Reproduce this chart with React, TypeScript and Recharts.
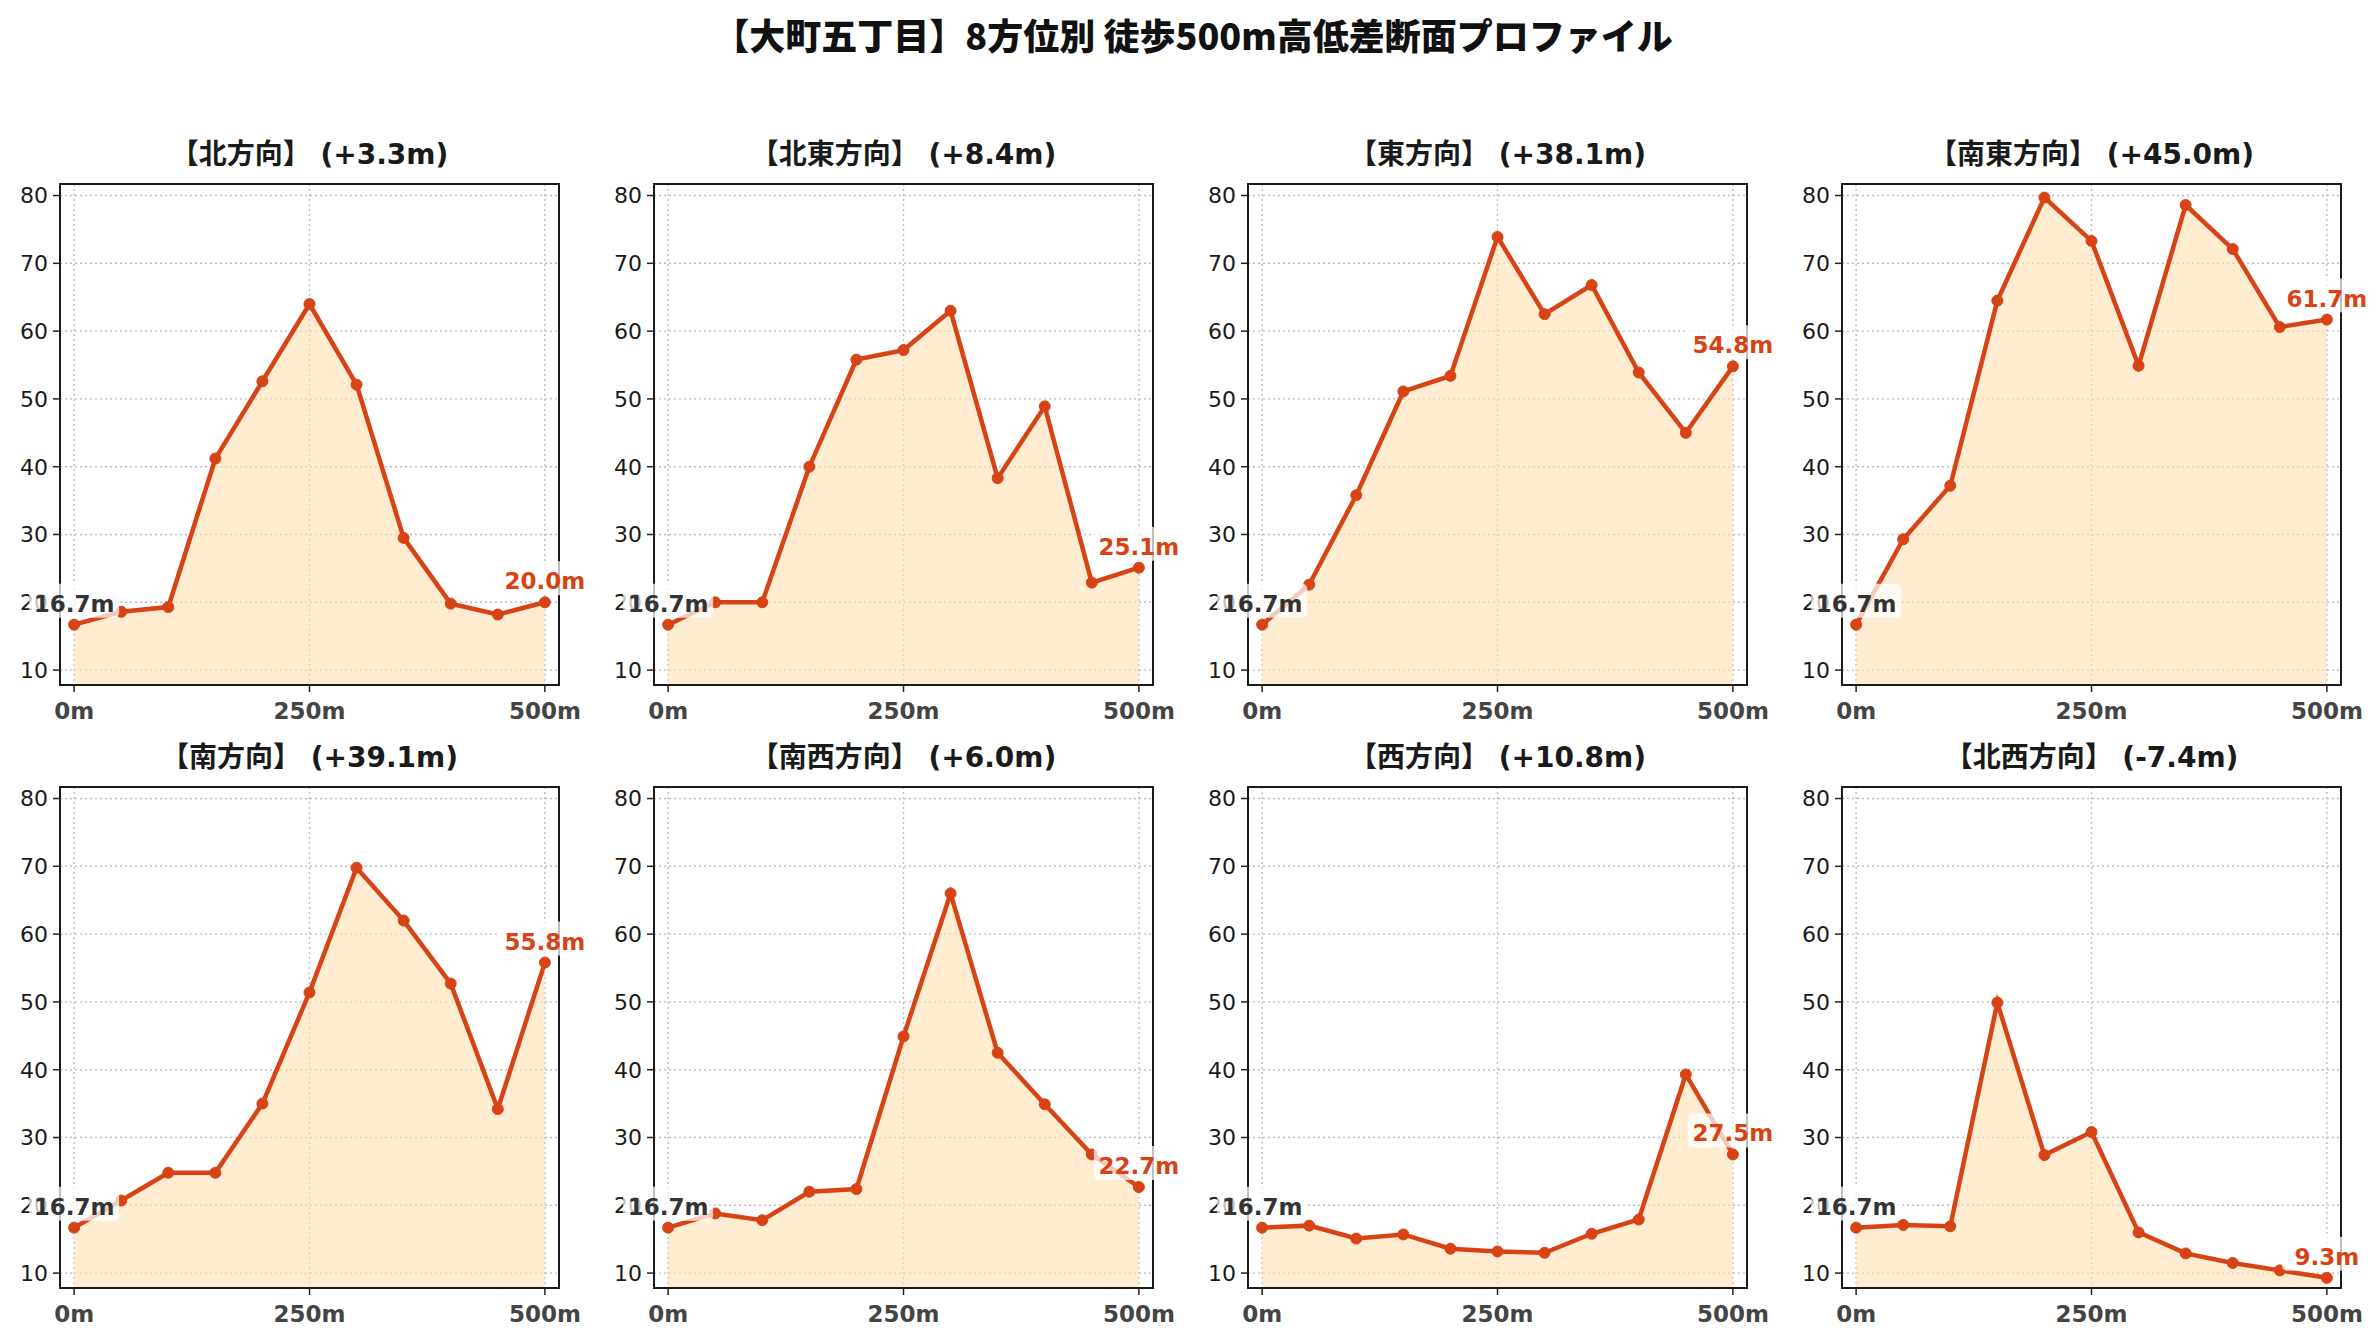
import React from 'react';
import { ComposedChart, Area, Line, XAxis, YAxis, CartesianGrid, ReferenceArea } from 'recharts';

// distance from start point (m)
const distances = [0, 50, 100, 150, 200, 250, 300, 350, 400, 450, 500];

// elevation (m) along each direction
const northValues = [16.7, 18.6, 19.3, 41.2, 52.6, 64.0, 52.1, 29.5, 19.8, 18.2, 20.0];
const northEastValues = [16.7, 20.0, 20.0, 40.0, 55.8, 57.2, 63.0, 38.3, 48.9, 22.9, 25.1];
const eastValues = [16.7, 22.6, 35.8, 51.1, 53.4, 73.9, 62.5, 66.8, 53.9, 45.0, 54.8];
const southEastValues = [16.7, 29.3, 37.2, 64.5, 79.7, 73.3, 54.9, 78.6, 72.1, 60.6, 61.7];
const southValues = [16.7, 20.7, 24.8, 24.8, 35.0, 51.4, 69.8, 62.0, 52.7, 34.2, 55.8];
const southWestValues = [16.7, 18.8, 17.8, 22.0, 22.4, 44.9, 66.0, 42.5, 34.9, 27.5, 22.7];
const westValues = [16.7, 17.0, 15.1, 15.7, 13.6, 13.2, 13.0, 15.8, 17.9, 39.3, 27.5];
const northWestValues = [16.7, 17.1, 16.9, 49.9, 27.4, 30.8, 16.0, 12.9, 11.5, 10.4, 9.3];

const directionNames = ['北方向', '北東方向', '東方向', '南東方向', '南方向', '南西方向', '西方向', '北西方向'];
const seriesList = [
  northValues, northEastValues, eastValues, southEastValues,
  southValues, southWestValues, westValues, northWestValues,
];

const xTicks = [0, 250, 500];
const yTicks = [10, 20, 30, 40, 50, 60, 70, 80];
const mainTitle = '【大町五丁目】8方位別 徒歩500m高低差断面プロファイル';

const LINE_COLOR = '#d84315';
const FILL_COLOR = '#ffe0b2';
const FONT = '"DejaVu Sans", "Noto Sans CJK JP", sans-serif';

// plot-area positions in the figure
const colLefts = [60, 654, 1248, 1842];
const rowTops = [184, 787];
const PLOT_W = 499;
const PLOT_H = 501;
const Y_AXIS_W = 60;
const X_AXIS_H = 50;
const TOP_PAD = 10;
const RIGHT_PAD = 50;

const X_DOMAIN = [-15, 515];
const Y_DOMAIN = [7.8, 81.7];

const Panel = ({ name, values, left, top }) => {
  const data = distances.map((d, i) => ({ dist: d, elev: values[i] }));
  const last = values.length - 1;
  const delta = values[last] - values[0];
  const title = `【${name}】 (${delta >= 0 ? '+' : ''}${delta.toFixed(1)}m)`;

  const renderLabel = (props) => {
    const { x, y, index, value } = props;
    if (index !== 0 && index !== last) return null;
    const color = index === 0 ? '#333333' : LINE_COLOR;
    return (
      <g key={`lbl-${index}`}>
        <rect x={x - 45} y={y - 41} width={90} height={34} rx={5} fill="#ffffff" fillOpacity={0.72} />
        <text
          x={x}
          y={y - 13}
          textAnchor="middle"
          fill={color}
          fontSize={23}
          fontWeight="bold"
          fontFamily={FONT}
        >
          {`${Number(value).toFixed(1)}m`}
        </text>
      </g>
    );
  };

  return (
    <>
      <div
        style={{
          position: 'absolute',
          left: left - 20,
          top: top - 47,
          width: PLOT_W + 40,
          height: 36,
          lineHeight: '36px',
          textAlign: 'center',
          fontFamily: FONT,
          fontWeight: 'bold',
          fontSize: 28,
          color: '#1a1a1a',
          whiteSpace: 'nowrap',
        }}
      >
        {title}
      </div>
      <div style={{ position: 'absolute', left: left - Y_AXIS_W, top: top - TOP_PAD }}>
        <ComposedChart
          width={Y_AXIS_W + PLOT_W + RIGHT_PAD}
          height={TOP_PAD + PLOT_H + X_AXIS_H}
          data={data}
          margin={{ top: TOP_PAD, right: RIGHT_PAD, left: 0, bottom: 0 }}
        >
          <CartesianGrid stroke="#bdbdbd" strokeWidth={1.4} strokeDasharray="2 3" />
          <XAxis
            dataKey="dist"
            type="number"
            domain={X_DOMAIN}
            ticks={xTicks}
            allowDataOverflow
            height={X_AXIS_H}
            axisLine={false}
            tickLine={{ stroke: '#222', strokeWidth: 1.5 }}
            tickSize={7}
            tickMargin={11}
            tickFormatter={(v) => `${v}m`}
            tick={{ fontSize: 23, fontWeight: 'bold', fill: '#444', fontFamily: FONT }}
          />
          <YAxis
            type="number"
            domain={Y_DOMAIN}
            ticks={yTicks}
            allowDataOverflow
            width={Y_AXIS_W}
            axisLine={false}
            tickLine={{ stroke: '#222', strokeWidth: 1.5 }}
            tickSize={7}
            tickMargin={5}
            tick={{ fontSize: 22, fill: '#1a1a1a', fontFamily: FONT }}
          />
          <Area
            type="linear"
            dataKey="elev"
            stroke="none"
            fill={FILL_COLOR}
            fillOpacity={0.6}
            isAnimationActive={false}
            activeDot={false}
          />
          <ReferenceArea
            x1={X_DOMAIN[0]}
            x2={X_DOMAIN[1]}
            y1={Y_DOMAIN[0]}
            y2={Y_DOMAIN[1]}
            ifOverflow="visible"
            fill="none"
            fillOpacity={0}
            stroke="#1a1a1a"
            strokeWidth={2}
          />
          <Line
            type="linear"
            dataKey="elev"
            stroke={LINE_COLOR}
            strokeWidth={4.5}
            dot={{ r: 5.5, fill: LINE_COLOR, stroke: LINE_COLOR, strokeWidth: 1 }}
            activeDot={false}
            isAnimationActive={false}
            label={renderLabel}
          />
        </ComposedChart>
      </div>
    </>
  );
};

export default function App() {
  return (
    <div
      style={{
        position: 'absolute',
        left: 0,
        top: 0,
        width: 2380,
        height: 1340,
        background: '#ffffff',
        overflow: 'hidden',
      }}
    >
      <div
        style={{
          position: 'absolute',
          left: 0,
          top: 11,
          width: 2386,
          height: 46,
          lineHeight: '46px',
          textAlign: 'center',
          fontFamily: '"Noto Sans CJK JP", sans-serif',
          fontWeight: 900,
          fontSize: 36,
          color: '#111',
          whiteSpace: 'nowrap',
        }}
      >
        {mainTitle}
      </div>
      {seriesList.map((values, i) => (
        <Panel
          key={directionNames[i]}
          name={directionNames[i]}
          values={values}
          left={colLefts[i % 4]}
          top={rowTops[Math.floor(i / 4)]}
        />
      ))}
    </div>
  );
}
